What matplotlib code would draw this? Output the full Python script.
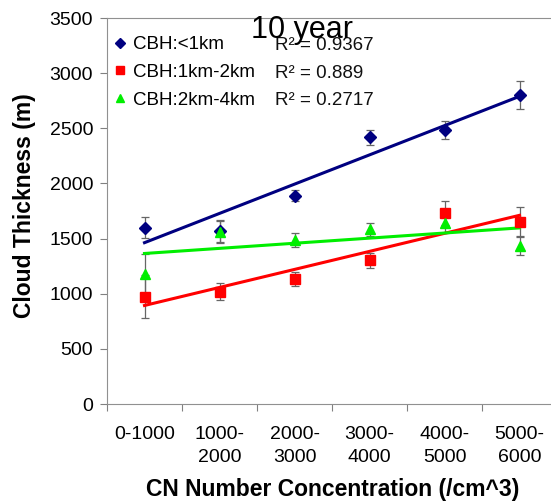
import numpy as np
import matplotlib.pyplot as plt

plt.rcParams['font.family'] = ['Liberation Sans', 'DejaVu Sans']

categories = ['0-1000', '1000-\n2000', '2000-\n3000', '3000-\n4000', '4000-\n5000', '5000-\n6000']
series_names = ['CBH:<1km', 'CBH:1km-2km', 'CBH:2km-4km']
r2_labels = ['0.9367', '0.889', '0.2717']

low_vals = [1598, 1568, 1889, 2418, 2484, 2800]
low_err = [95, 100, 50, 68, 80, 125]
mid_vals = [973, 1018, 1130, 1305, 1734, 1653]
mid_err = [193, 75, 63, 68, 110, 130]
high_vals = [1176, 1562, 1487, 1584, 1644, 1432]
high_err = [185, 100, 65, 60, 90, 85]

colors = ['#000080', '#ff0000', '#00ee00']
markers = ['D', 's', '^']
msizes = [6, 6.8, 7]

fig = plt.figure(figsize=(5.51, 5.03), dpi=100)
# axes run past the right edge, like the cropped original
ax = fig.add_axes([0.1942, 0.1968, 0.8167, 0.7674])

x = np.arange(len(categories)) + 0.5
handles = []
for vals, err, c, m, ms, name in zip([low_vals, mid_vals, high_vals],
                                     [low_err, mid_err, high_err],
                                     colors, markers, msizes, series_names):
    ax.errorbar(x, vals, yerr=err, fmt='none', ecolor='#666666', elinewidth=0.9,
                capsize=3, capthick=0.9, zorder=2)
    coef = np.polyfit(x, vals, 1)
    ax.plot(x, np.polyval(coef, x), color=c, lw=2.2, zorder=3)
    h, = ax.plot(x, vals, linestyle='none', marker=m, color=c, ms=ms, zorder=4, label=name)
    handles.append(h)

ax.set_xlim(0, 6)
ax.set_ylim(0, 3500)
ax.set_yticks(np.arange(0, 3501, 500))
ax.set_xticks(np.arange(0, 7))
ax.set_xticklabels([])
ax.set_xticks(x, minor=True)
ax.set_xticklabels(categories, minor=True, fontsize=14, linespacing=1.45)
ax.tick_params(axis='x', which='minor', length=0, pad=16)
ax.tick_params(axis='x', which='major', length=5, color='#808080', direction='out')
ax.tick_params(axis='y', length=5, color='#808080', direction='out', labelsize=14, pad=5)
for lab in ax.get_xticklabels(minor=True):
    lab.set_verticalalignment('top')

for s in ['left', 'bottom', 'top', 'right']:
    ax.spines[s].set_color('#909090')

fig.text(0.045, 0.592, 'Cloud Thickness (m)', fontsize=16.5, fontweight='bold',
         rotation=90, ha='center', va='center')
fig.text(0.603, 0.026, 'CN Number Concentration (/cm^3)', fontsize=16.5,
         fontweight='bold', ha='center', va='center')

leg = ax.legend(handles=handles, loc='upper left', bbox_to_anchor=(0.0156, 0.953),
                frameon=False, fontsize=13.5, handlelength=0.6, handletextpad=0.4,
                borderaxespad=0, borderpad=0, labelspacing=0.56, markerscale=0.8)

r2_y = [0.929, 0.857, 0.787]
for yy, r2 in zip(r2_y, r2_labels):
    ax.text(0.373, yy, 'R\u00b2 = ' + r2, transform=ax.transAxes,
            fontsize=13.5, va='center', ha='left', color='#111111')

ax.text(0.433, 0.948, '10 year', transform=ax.transAxes, fontsize=22,
        va='baseline', ha='center')

fig.savefig('out.png', dpi=100)
